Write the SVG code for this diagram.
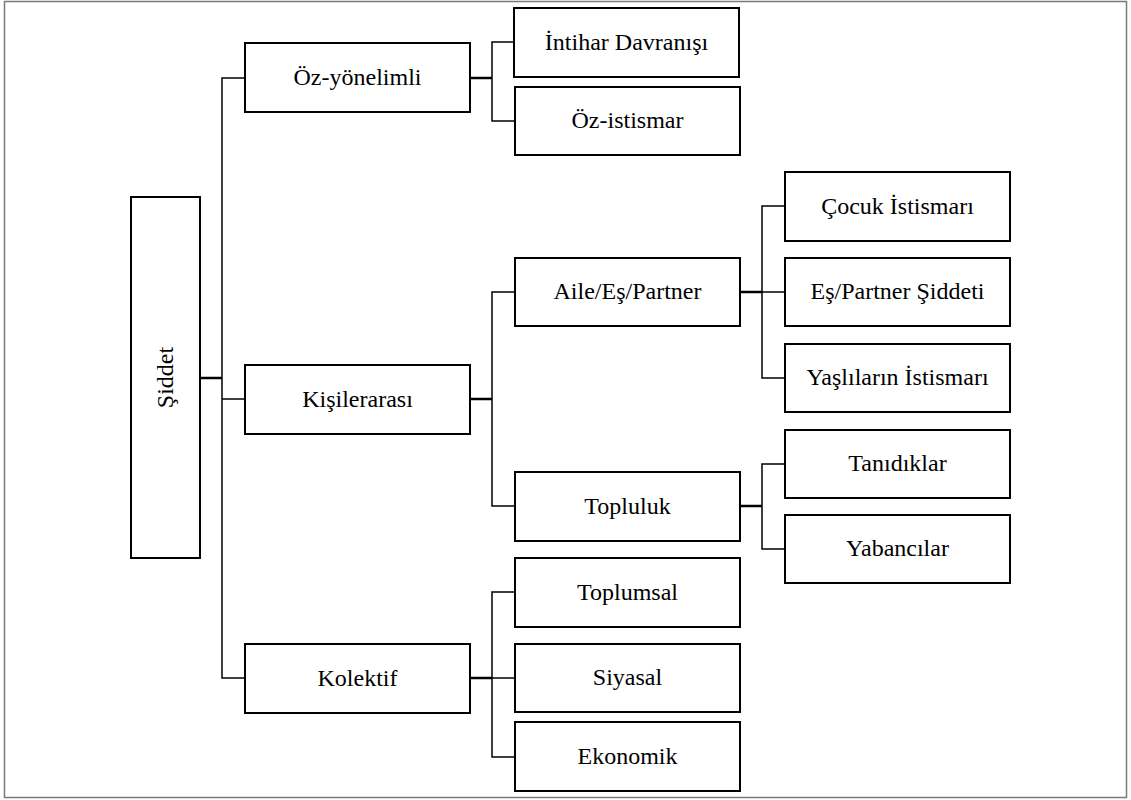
<svg xmlns="http://www.w3.org/2000/svg" width="1131" height="800" viewBox="0 0 1131 800">
<style>
.frame{fill:#fff;stroke:#7a7a7a;stroke-width:1.5}
.box{fill:#fff;stroke:#000;stroke-width:2}
.lbl{font-family:"Liberation Serif","Times New Roman",serif;font-size:24px;fill:#000;text-anchor:middle}
.ln{fill:none;stroke:#000;stroke-width:1.5}
.stub{fill:none;stroke:#000;stroke-width:2.5}
</style>
<rect class="frame" x="4.5" y="1.5" width="1122" height="796"/>
<g id="connectors">
<path class="stub" d="M200,378 H222"/>
<path class="ln" d="M245,78 H222 V678 H245 M222,399 H245"/>
<path class="stub" d="M470,78 H492"/>
<path class="ln" d="M514,42 H492 V121 H515"/>
<path class="stub" d="M470,399 H492"/>
<path class="ln" d="M515,292 H492 V506 H515"/>
<path class="stub" d="M470,678 H492"/>
<path class="ln" d="M515,592 H492 V757 H515 M492,678 H515"/>
<path class="stub" d="M740,292 H762"/>
<path class="ln" d="M785,206 H762 V378 H785 M762,292 H785"/>
<path class="stub" d="M740,506 H762"/>
<path class="ln" d="M785,464 H762 V549 H785"/>
</g>
<g id="n-siddet"><rect class="box" x="131" y="197" width="69" height="361"/><text class="lbl" transform="translate(165.5,377.5) rotate(-90)" x="0" y="7">Şiddet</text></g>
<g id="n-ozyonelimli"><rect class="box" x="245" y="43" width="225" height="69"/><text class="lbl" x="357.5" y="85">Öz-yönelimli</text></g>
<g id="n-kisilerarasi"><rect class="box" x="245" y="365" width="225" height="69"/><text class="lbl" x="357.5" y="407">Kişilerarası</text></g>
<g id="n-kolektif"><rect class="box" x="245" y="644" width="225" height="69"/><text class="lbl" x="357.5" y="686">Kolektif</text></g>
<g id="n-intihar"><rect class="box" x="514" y="8" width="225" height="69"/><text class="lbl" x="626.5" y="50">İntihar Davranışı</text></g>
<g id="n-ozistismar"><rect class="box" x="515" y="87" width="225" height="68"/><text class="lbl" x="627.5" y="128">Öz-istismar</text></g>
<g id="n-aile"><rect class="box" x="515" y="258" width="225" height="68"/><text class="lbl" x="627.5" y="299">Aile/Eş/Partner</text></g>
<g id="n-topluluk"><rect class="box" x="515" y="472" width="225" height="69"/><text class="lbl" x="627.5" y="514">Topluluk</text></g>
<g id="n-toplumsal"><rect class="box" x="515" y="558" width="225" height="69"/><text class="lbl" x="627.5" y="600">Toplumsal</text></g>
<g id="n-siyasal"><rect class="box" x="515" y="644" width="225" height="68"/><text class="lbl" x="627.5" y="685">Siyasal</text></g>
<g id="n-ekonomik"><rect class="box" x="515" y="722" width="225" height="69"/><text class="lbl" x="627.5" y="764">Ekonomik</text></g>
<g id="n-cocuk"><rect class="box" x="785" y="172" width="225" height="69"/><text class="lbl" x="897.5" y="214">Çocuk İstismarı</text></g>
<g id="n-espartner"><rect class="box" x="785" y="258" width="225" height="68"/><text class="lbl" x="897.5" y="299">Eş/Partner Şiddeti</text></g>
<g id="n-yaslilar"><rect class="box" x="785" y="344" width="225" height="68"/><text class="lbl" x="897.5" y="385">Yaşlıların İstismarı</text></g>
<g id="n-tanidiklar"><rect class="box" x="785" y="430" width="225" height="68"/><text class="lbl" x="897.5" y="471">Tanıdıklar</text></g>
<g id="n-yabancilar"><rect class="box" x="785" y="515" width="225" height="68"/><text class="lbl" x="897.5" y="556">Yabancılar</text></g>
</svg>
